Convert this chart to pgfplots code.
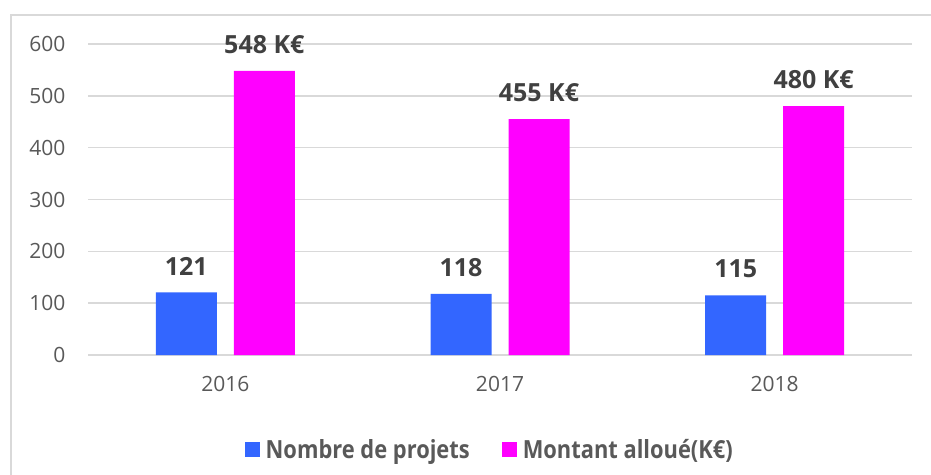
\documentclass[border=0pt]{standalone}
\usepackage{pgfplots}
\pgfplotsset{compat=1.18}
\usepackage{fontspec}
\setmainfont{Open Sans}
\newfontfamily\legfont[FakeStretch=0.875]{Open Sans}
\definecolor{barblue}{RGB}{51,102,255}
\definecolor{barmag}{RGB}{255,0,255}
\definecolor{gridc}{RGB}{217,217,217}
\definecolor{txt}{RGB}{89,89,89}
\definecolor{lbl}{RGB}{64,64,64}
\begin{document}
\begin{tikzpicture}
\useasboundingbox (0pt,0pt) rectangle (931pt,474pt);
\draw[gridc, line width=2pt] (11pt,-5pt) -- (11pt,459pt) -- (940pt,459pt);
\begin{axis}[
  at={(88pt,119pt)}, anchor=south west,
  scale only axis, width=824pt, height=311pt,
  xmin=-0.5, xmax=2.5, ymin=0, ymax=600,
  ybar, bar width=61pt,
  xtick={0,1,2}, xticklabels={2016,2017,2018},
  ytick={0,100,...,600},
  ymajorgrids, grid style={gridc, line width=1.5pt},
  axis line style={draw=none},
  major tick length=0pt,
  /pgf/number format/assume math mode=true,
  tick label style={font=\fontsize{21}{25}\selectfont, text=txt},
  xticklabel style={yshift=-18pt},
  yticklabel style={xshift=-19pt},
  nodes near coords,
  point meta=explicit symbolic,
  every node near coord/.append style={font=\fontsize{25}{30}\selectfont\bfseries, text=lbl, anchor=south, inner sep=0pt, yshift=17pt},
  legend columns=2,
  legend style={draw=none, fill=none, at={(0.49,-0.305)}, anchor=center,
    font=\legfont\fontsize{25}{30}\selectfont\bfseries, text=txt,
    /tikz/every even column/.append style={column sep=26pt},
    nodes={inner sep=0pt, inner xsep=6pt}},
  legend image code/.code={\fill[#1] (0pt,-7.5pt) rectangle (15pt,7.5pt);},
]
\addplot[fill=barblue, draw=none, bar shift=-39pt] coordinates {(0,121)[121] (1,118)[118] (2,115)[115]};
\addplot[fill=barmag, draw=none, bar shift=39pt] coordinates {(0,548)[548 K€] (1,455)[455 K€] (2,480)[480 K€]};
\legend{Nombre de projets, Montant alloué(K€)}
\end{axis}
\end{tikzpicture}
\end{document}
